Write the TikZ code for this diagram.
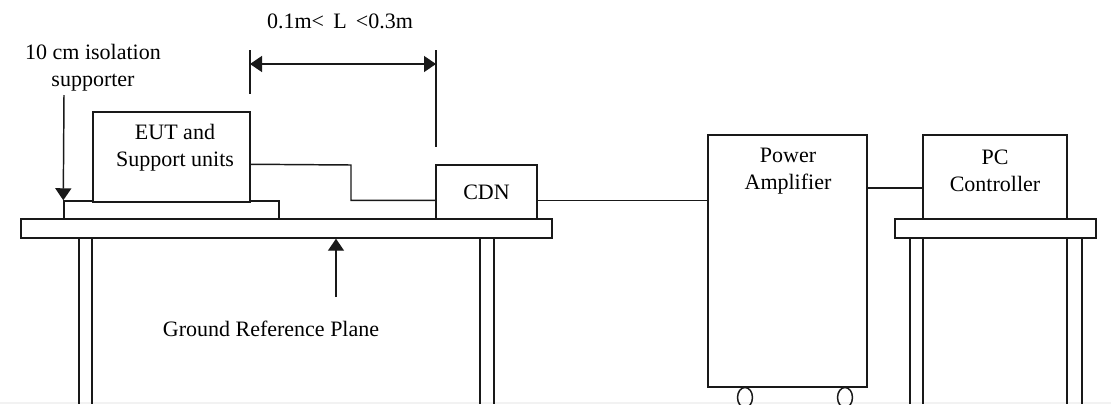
\documentclass[tikz,border=0pt]{standalone}
\usepackage{fontspec}
\setmainfont{Liberation Serif}
\usetikzlibrary{arrows.meta,fit}

\tikzset{
  unit/.style={draw=black!90, line width=1.1pt, inner sep=0pt, fit={#1}},
  lbl/.style={font=\fontsize{16.5}{20}\selectfont, align=center, inner sep=0pt},
  wire/.style={draw=black!90, line width=1.1pt},
  pointer/.style={wire, -{Triangle[length=9pt,width=12pt]}},
}

\begin{document}
\begin{tikzpicture}[x=0.75pt,y=-0.75pt,line width=1.1pt]
  \useasboundingbox (0,0) rectangle (1111,404);
  \fill[gray!10] (0,402) rectangle (1111,404);

  % test table and ground reference plane
  \node[unit={(21,219) (552,238)}] (plane) {};
  \foreach \lx in {79,92,480,494}
    \draw[wire] (\lx,238) -- (\lx,404);
  \node[unit={(64,201) (279,219)}, fill=white] (iso) {};
  \node[unit={(93,112) (250,202)}, fill=white] (eut) {};
  \node[unit={(436,165) (537,219)}] (cdn) {};

  % amplifier and controller desk
  \draw[wire] (745,397.5) circle [x radius=5.6pt, y radius=7.5pt];
  \draw[wire] (845,397.5) circle [x radius=5.6pt, y radius=7.5pt];
  \node[unit={(708,135) (867,387)}, fill=white] (amp) {};
  \node[unit={(895,219) (1096,238)}] (desk) {};
  \foreach \lx in {910,923,1067,1082}
    \draw[wire] (\lx,238) -- (\lx,404);
  \node[unit={(923,135) (1067,219)}] (pc) {};

  \node[lbl] (eutlbl) at (175,148) {EUT and\\Support units};
  \node[lbl] (cdnlbl) at (cdn) {CDN};
  \node[lbl] (amplbl) at (788,171) {Power\\Amplifier};
  \node[lbl] (pclbl) at (995,171) {PC\\Controller};
  \node[lbl] (isolbl) at (93,68) {10 cm isolation\\supporter};
  \node[lbl] (grplbl) at (271,329) {Ground Reference Plane};
  \node[lbl] (dimlbl) at (340,21) {0.1m<\ \,L\ \,<0.3m};

  % cables
  \coordinate (bend) at (351,165);
  \coordinate (pcin) at (923,188);
  \draw[wire] (eut.east |- cdn.north) -- (bend) |- (cdn.west |- iso.north);
  \draw[wire] (cdn.east |- iso.north) -- (amp.west |- iso.north);
  \draw[wire] (amp.east |- pcin) -- (pcin);

  % length between EUT and CDN
  \coordinate (dimA) at (250,64);
  \coordinate (dimB) at (436,64);
  \draw[wire] (250,50) -- (250,94);
  \draw[wire] (436,50) -- (436,147);
  \draw[wire, {Triangle[length=9pt,width=12pt]}-{Triangle[length=9pt,width=12pt]}] (dimA) -- (dimB);

  % pointers
  \coordinate (isotail) at (64,95);
  \coordinate (grptail) at (336,297);
  \draw[pointer] (isotail) -- (iso.north west);
  \draw[pointer] (grptail) -- (grptail |- plane.south);
\end{tikzpicture}
\end{document}
